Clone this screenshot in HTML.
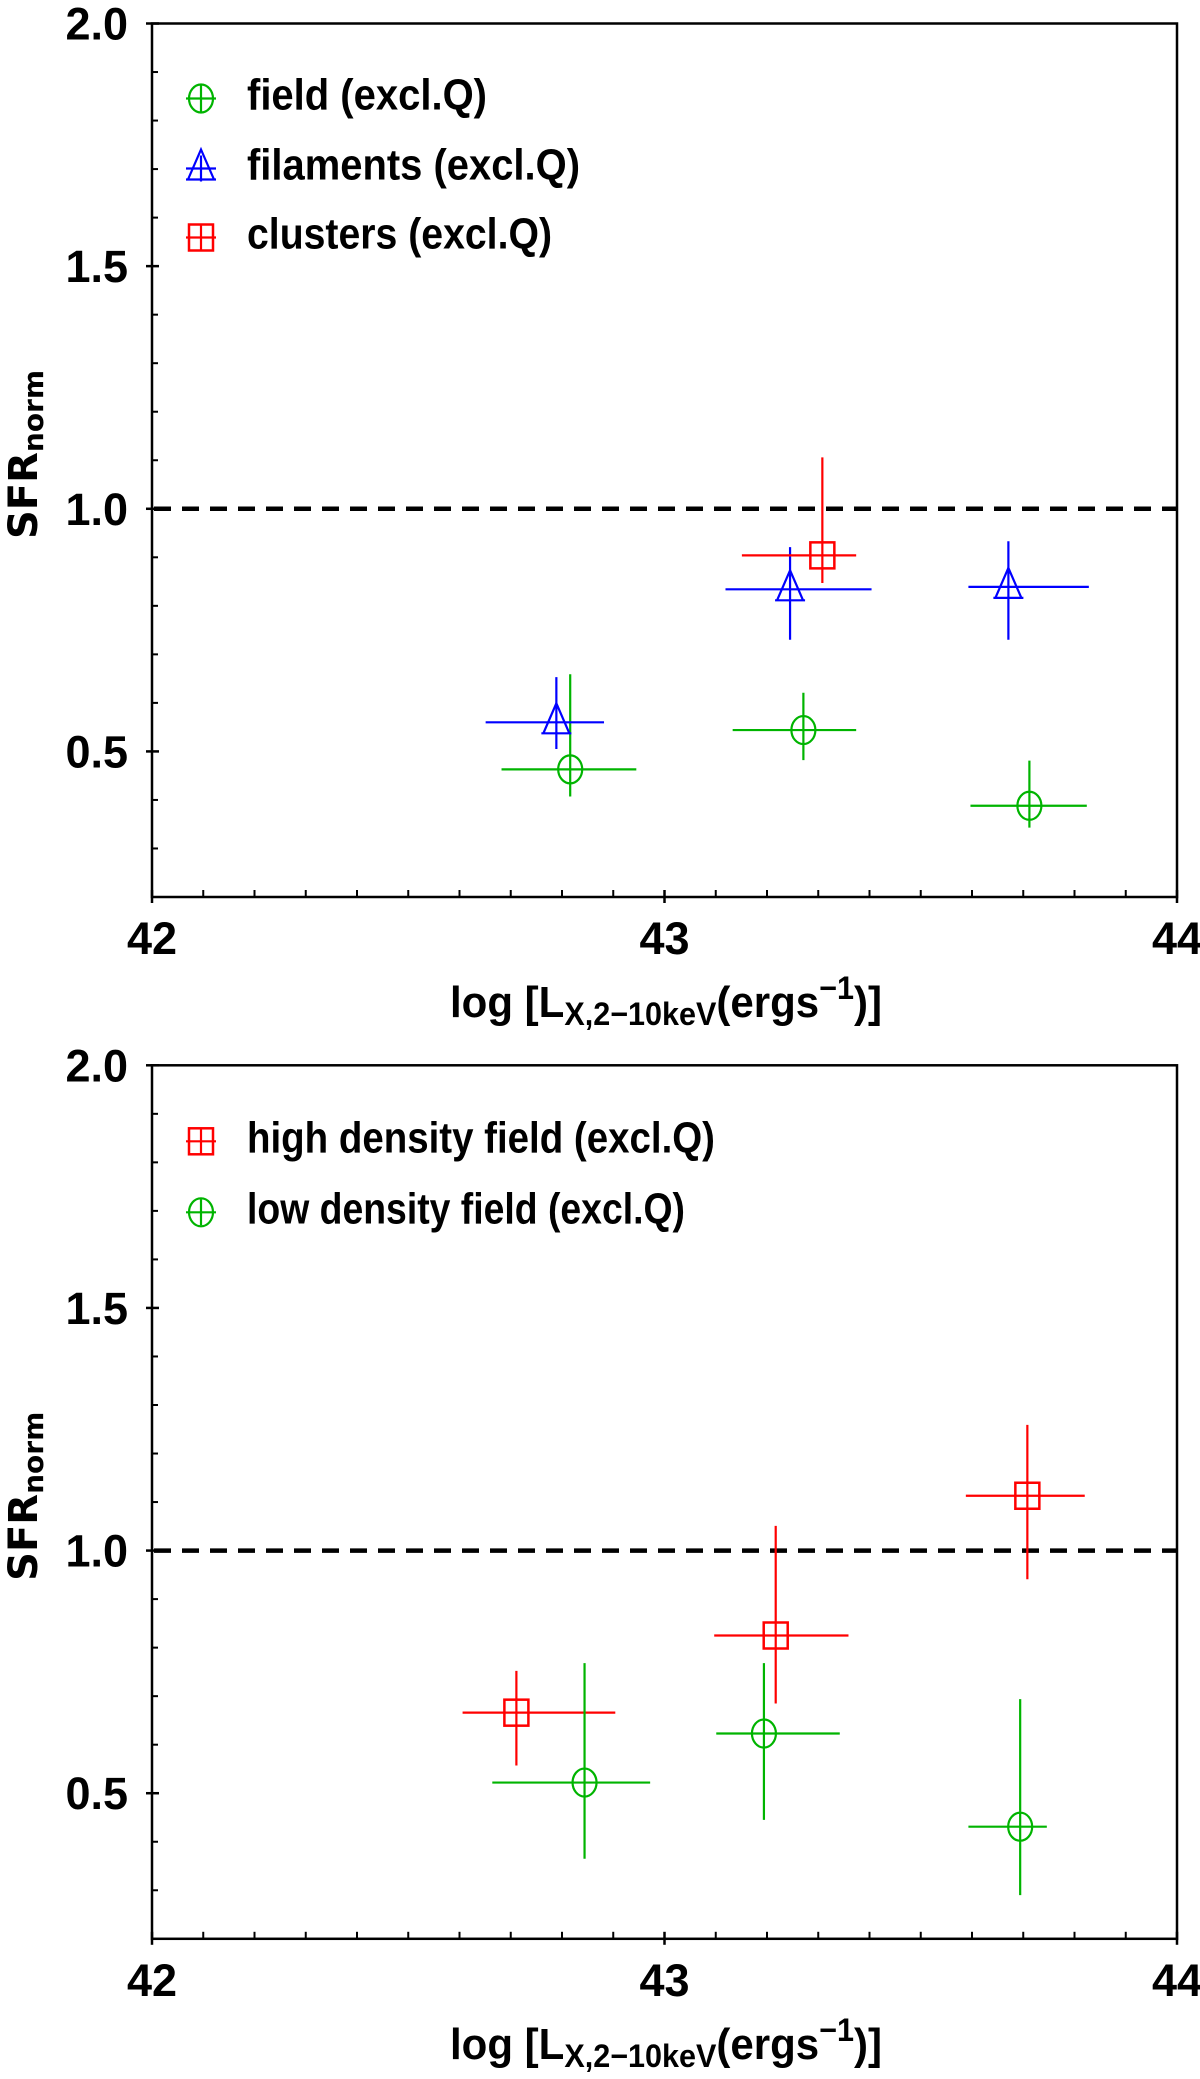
<!DOCTYPE html>
<html><head><meta charset="utf-8">
<style>
html,body{margin:0;padding:0;background:#fff;}
svg{display:block;}
.tk{font-family:"Liberation Sans Narrow","Liberation Sans",sans-serif;font-weight:bold;font-size:45px;fill:#000;}
.lg{font-family:"Liberation Sans Narrow","Liberation Sans",sans-serif;font-weight:bold;font-size:44px;fill:#000;}
.yl{font-family:"DejaVu Sans","Liberation Sans",sans-serif;font-weight:bold;font-size:40px;fill:#000;}
</style></head>
<body>
<svg id="fig" width="1200" height="2079" viewBox="0 0 1200 2079" xmlns="http://www.w3.org/2000/svg"></svg>
<script>
// ---- data: panel 1 ----
const xTicks = [42, 43, 44];
const yTicks = [0.5, 1.0, 1.5, 2.0];
const yTickLabels = ["0.5", "1.0", "1.5", "2.0"];
const refLine = 1.0;

const p1FieldX = [42.816, 43.271, 43.712];
const p1FieldY = [0.463, 0.544, 0.388];
const p1FieldXlo = [42.682, 43.133, 43.597];
const p1FieldXhi = [42.945, 43.374, 43.824];
const p1FieldYlo = [0.407, 0.482, 0.343];
const p1FieldYhi = [0.659, 0.621, 0.481];

const p1FilX = [42.789, 43.245, 43.671];
const p1FilY = [0.560, 0.834, 0.839];
const p1FilXlo = [42.651, 43.119, 43.593];
const p1FilXhi = [42.882, 43.404, 43.828];
const p1FilYlo = [0.505, 0.730, 0.730];
const p1FilYhi = [0.653, 0.921, 0.933];

const p1CluX = [43.308];
const p1CluY = [0.904];
const p1CluXlo = [43.151];
const p1CluXhi = [43.374];
const p1CluYlo = [0.847];
const p1CluYhi = [1.106];

// ---- data: panel 2 ----
const p2HighX = [42.711, 43.217, 43.708];
const p2HighY = [0.666, 0.825, 1.113];
const p2HighXlo = [42.606, 43.097, 43.588];
const p2HighXhi = [42.904, 43.359, 43.820];
const p2HighYlo = [0.557, 0.685, 0.941];
const p2HighYhi = [0.752, 1.051, 1.259];

const p2LowX = [42.844, 43.194, 43.694];
const p2LowY = [0.522, 0.623, 0.431];
const p2LowXlo = [42.664, 43.101, 43.593];
const p2LowXhi = [42.972, 43.342, 43.746];
const p2LowYlo = [0.365, 0.445, 0.290];
const p2LowYhi = [0.768, 0.768, 0.694];

const NS = "http://www.w3.org/2000/svg";
const svg = document.getElementById("fig");
const GREEN = "#00b400", BLUE = "#0000ff", RED = "#ff0000";

function mk(tag, parent, attrs) {
  const e = document.createElementNS(NS, tag);
  for (const k in attrs) e.setAttribute(k, attrs[k]);
  parent.appendChild(e);
  return e;
}

function panel(top, name) {
  const L = 152, R = 1177, T = top, B = top + 873.5;
  const xMin = 42, xMax = 44, yMin = 0.2, yMax = 2.0;
  const sx = v => L + (v - xMin) / (xMax - xMin) * (R - L);
  const sy = v => B - (v - yMin) / (yMax - yMin) * (B - T);
  const g = mk("g", svg, {});
  
  
  const frame = mk("rect", g, {x: L, y: T, width: R - L, height: B - T, fill: "none", stroke: "#000", "stroke-width": 2.5});
  
  
  for (let i = 1; i < 20; i++) {
    if (i % 10 === 0) continue;
    const x = sx(xMin + i * 0.1);
    const t = mk("line", g, {x1: x, x2: x, y1: B, y2: B - 7, stroke: "#000", "stroke-width": 2});
    
    
  }
  xTicks.forEach(v => {
    const x = sx(v);
    const t = mk("line", g, {x1: x, x2: x, y1: B + 6, y2: B - 7, stroke: "#000", "stroke-width": 2.5});
    
    
    const lb = mk("text", g, {x: x, y: B + 57, "text-anchor": "middle", class: "tk"});
    lb.textContent = String(v);
    
    
  });
  for (let i = 1; i < 18; i++) {
    const v = yMin + i * 0.1;
    if (Math.abs(v * 2 - Math.round(v * 2)) < 1e-6) continue;
    const y = sy(v);
    const t = mk("line", g, {x1: L, x2: L + 6, y1: y, y2: y, stroke: "#000", "stroke-width": 2});
    
    
  }
  yTicks.forEach((v, i) => {
    const y = sy(v);
    const t = mk("line", g, {x1: L - 6, x2: L + 7, y1: y, y2: y, stroke: "#000", "stroke-width": 2.5});
    
    
    const lb = mk("text", g, {x: 128, y: y + 16, "text-anchor": "end", class: "tk"});
    lb.textContent = yTickLabels[i];
    
    
  });
  const rl = mk("line", g, {x1: L + 2, x2: R, y1: sy(refLine), y2: sy(refLine), stroke: "#000", "stroke-width": 4.5, "stroke-dasharray": "17 11"});
  
  
  const yt = mk("text", g, {transform: `translate(37,${T + 431}) rotate(-90)`, "text-anchor": "middle", class: "yl"});
  
  
  const ts1 = mk("tspan", yt, {}); ts1.textContent = "SFR";
  const ts2 = mk("tspan", yt, {"font-size": "28px", dy: 6}); ts2.textContent = "norm";
  const xt = mk("text", g, {x: 450, y: B + 120, class: "lg", textLength: 432, lengthAdjust: "spacingAndGlyphs"});
  
  
  const a = mk("tspan", xt, {}); a.textContent = "log [L";
  const b = mk("tspan", xt, {"font-size": "32px", dy: 8}); b.textContent = "X,2\u221210keV";
  const c = mk("tspan", xt, {dy: -8}); c.textContent = "(ergs";
  const d = mk("tspan", xt, {"font-size": "32px", dy: -18}); d.textContent = "\u22121";
  const e = mk("tspan", xt, {dy: 18}); e.textContent = ")]";
  return {g, sx, sy, T};
}

function marker(g, shape, cx, cy, color) {
  let m;
  if (shape === "circle") {
    m = mk("ellipse", g, {cx: cx, cy: cy, rx: 12, ry: 14, fill: "none", stroke: color, "stroke-width": 2.2});
  } else if (shape === "square") {
    m = mk("rect", g, {x: cx - 12, y: cy - 13, width: 24, height: 26, fill: "none", stroke: color, "stroke-width": 2.5});
  } else {
    m = mk("path", g, {d: `M${cx} ${cy - 19} L${cx + 13} ${cy + 11} L${cx - 13} ${cy + 11} Z M${cx - 15} ${cy + 11} L${cx + 15} ${cy + 11}`, fill: "none", stroke: color, "stroke-width": 2.2});
  }
  return m;
}

function series(P, shape, color, X, Y, Xlo, Xhi, Ylo, Yhi, name) {
  const sg = mk("g", P.g, {});
  
  
  X.forEach((xv, i) => {
    const cx = P.sx(xv), cy = P.sy(Y[i]);
    const h = mk("line", sg, {x1: P.sx(Xlo[i]), x2: P.sx(Xhi[i]), y1: cy, y2: cy, stroke: color, "stroke-width": 2.2});
    
    
    const v = mk("line", sg, {x1: cx, x2: cx, y1: P.sy(Ylo[i]), y2: P.sy(Yhi[i]), stroke: color, "stroke-width": 2.2});
    
    
    const m = marker(sg, shape, cx, cy, color);
    
    
  });
}

function legendEntry(P, row, dy, shape, color, label, w) {
  const lg = mk("g", P.g, {});
  
  
  const cy = P.T + dy, cx = 201;
  marker(lg, shape, cx, cy, color);
  mk("line", lg, {x1: cx - 15, x2: cx + 15, y1: cy, y2: cy, stroke: color, "stroke-width": 2.2});
  mk("line", lg, {x1: cx, x2: cx, y1: cy - 13, y2: cy + 13, stroke: color, "stroke-width": 2.2});
  const t = mk("text", lg, {x: 247, y: cy + 11, class: "lg", textLength: w, lengthAdjust: "spacingAndGlyphs"});
  t.textContent = label;
  
  
}

const P1 = panel(23.5, "top-panel");
series(P1, "circle", GREEN, p1FieldX, p1FieldY, p1FieldXlo, p1FieldXhi, p1FieldYlo, p1FieldYhi, "field-series");
series(P1, "triangle", BLUE, p1FilX, p1FilY, p1FilXlo, p1FilXhi, p1FilYlo, p1FilYhi, "filaments-series");
series(P1, "square", RED, p1CluX, p1CluY, p1CluXlo, p1CluXhi, p1CluYlo, p1CluYhi, "clusters-series");
legendEntry(P1, 0, 75, "circle", GREEN, "field (excl.Q)", 240);
legendEntry(P1, 1, 145, "triangle", BLUE, "filaments (excl.Q)", 333);
legendEntry(P1, 2, 214, "square", RED, "clusters (excl.Q)", 305);

const P2 = panel(1065.3, "bottom-panel");
series(P2, "square", RED, p2HighX, p2HighY, p2HighXlo, p2HighXhi, p2HighYlo, p2HighYhi, "high-density-series");
series(P2, "circle", GREEN, p2LowX, p2LowY, p2LowXlo, p2LowXhi, p2LowYlo, p2LowYhi, "low-density-series");
legendEntry(P2, 0, 76, "square", RED, "high density field (excl.Q)", 468);
legendEntry(P2, 1, 147, "circle", GREEN, "low density field (excl.Q)", 438);
</script>
</body></html>
